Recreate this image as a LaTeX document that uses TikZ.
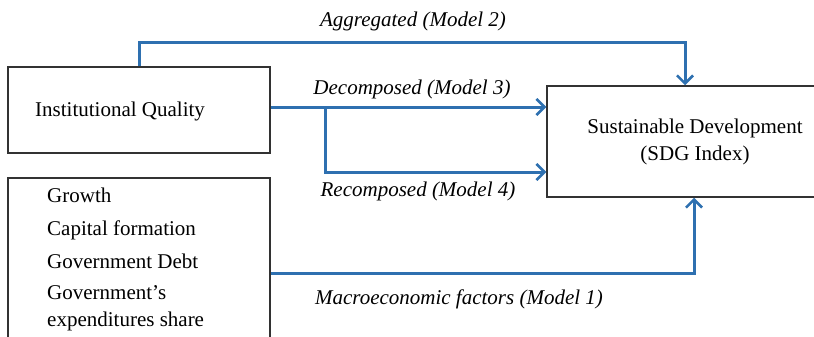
\documentclass[tikz,border=0pt]{standalone}
\usepackage{fontspec}
\setmainfont{Liberation Serif}
\usetikzlibrary{arrows.meta}
\definecolor{flowblue}{RGB}{46,112,176}
\definecolor{boxgray}{RGB}{50,50,50}
\tikzset{
  box/.style={draw=boxgray, line width=1.5pt, fill=white, inner sep=0pt},
  flow/.style={draw=flowblue, line width=3pt, -{Straight Barb[length=8pt,width=16pt,line width=2.6pt]}},
  lbl/.style={font=\fontsize{21}{24}\selectfont\itshape, inner sep=0pt},
  txt/.style={font=\fontsize{21}{24}\selectfont, inner sep=0pt}
}
\begin{document}
\begin{tikzpicture}[x=1pt,y=-1pt]
\useasboundingbox (0,0) rectangle (814,337);
\clip (0,0) rectangle (814,337);
\fill[white] (0,0) rectangle (814,337);
% boxes
\node[box, minimum width=262pt, minimum height=86pt] (iq) at (139,110) {};
\node[box, minimum width=262pt, minimum height=190pt] (mac) at (139,273) {};
\node[box, minimum width=296pt, minimum height=111pt] (sd) at (695,141.5) {};
% texts
\node[txt, anchor=mid west] (iqt) at (35,114) {Institutional Quality};
\node[txt, align=center] (sdt) at (695,142) {Sustainable Development\\[3pt](SDG Index)};
\node[txt, anchor=mid west] (m1) at (47,200) {Growth};
\node[txt, anchor=mid west] (m2) at (47,233) {Capital formation};
\node[txt, anchor=mid west] (m3) at (47,266) {Government Debt};
\node[txt, anchor=mid west] (m4) at (47,297) {Government’s};
\node[txt, anchor=mid west] (m5) at (47,324) {expenditures share};
% connectors
\draw[flow] (iq.north) -- ++(0,-24) -| ([xshift=-10pt]sd.north);
\coordinate (iqe) at ([yshift=3pt]iq.east);
\coordinate (br) at (325,107);
\draw[flow] (iqe) -- (iqe -| sd.west);
\draw[flow] (br) |- (sd.west |- 0,172);
\draw[flow] (mac.east) -| ([xshift=-1pt]sd.south);
% labels
\node[lbl] (la) at (413,21) {Aggregated (Model 2)};
\node[lbl] (ld) at (412,89) {Decomposed (Model 3)};
\node[lbl] (lr) at (418,191) {Recomposed (Model 4)};
\node[lbl] (lm) at (459,299) {Macroeconomic factors (Model 1)};
\end{tikzpicture}
\end{document}
